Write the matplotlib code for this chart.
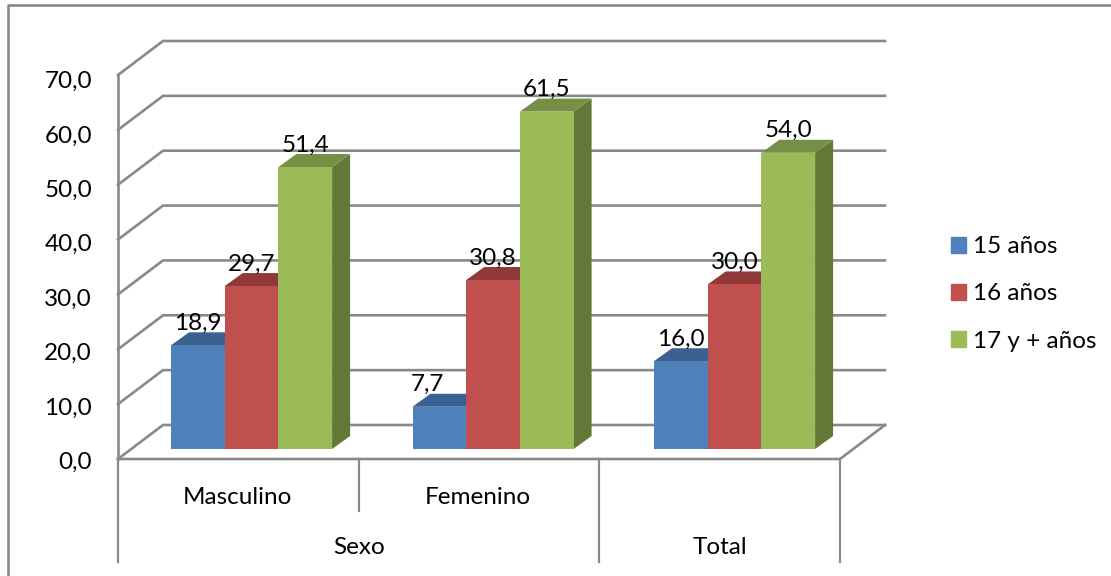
import matplotlib
matplotlib.use('Agg')
import matplotlib.pyplot as plt
from matplotlib.patches import Patch

# Data
groups = ['Masculino', 'Femenino', 'Total']
series = ['15 años', '16 años', '17 y + años']
v15 = [18.9, 7.7, 16.0]
v16 = [29.7, 30.8, 30.0]
v17 = [51.4, 61.5, 54.0]
ticks = [0, 10, 20, 30, 40, 50, 60, 70]

front = ['#4F81BD', '#C0504D', '#9BBB59']
top = ['#3A6190', '#8F3A38', '#768F45']
side = ['#2F4F75', '#742F2D', '#637736']
grey = '#898989'
fs = 17.5


def fmt(v):
    return f'{v:.1f}'.replace('.', ',')


plt.rcParams['font.family'] = ['Lato', 'DejaVu Sans']

fig = plt.figure(figsize=(11.11, 5.76), dpi=100)
ax = fig.add_axes([0, 0, 1, 1])
ax.axis('off')

# one axes over the whole figure: x in categories, y in chart values
px = 3 / 722     # x units per pixel
py = 70 / 384    # y units per pixel
ax.set_xlim(-118 * px, (1111 - 118) * px)
ax.set_ylim(-(576 - 459) * py, 459 * py)

back_x, back_y = 45 * px, 34 * py      # depth of the back wall
floor_y = 10 * py                      # bar front sits a bit into the floor
bar_dx, bar_dy = 18 * px, 13 * py      # depth of a bar
bar_w = 53.7 * px
bar_start = 53 * px
group_step = 241.5 * px

lw = 1.9
# chart frame, only left and top show
ax.plot([(8 - 118) * px, (8 - 118) * px, (1111 - 118) * px],
        [-(576 - 459) * py, (459 - 5) * py, (459 - 5) * py], color=grey, lw=lw)

# walls and gridlines
for t in ticks:
    ax.plot([0, back_x, 3 + back_x], [t, t + back_y, t + back_y], color=grey, lw=lw, zorder=1,
            solid_joinstyle='miter')
    ax.text(-26 * px, t * 0.992 - 3.5 * py, fmt(t), ha='right', va='center', fontsize=fs, color='black')
ax.plot([0, 0], [0, ticks[-1]], color=grey, lw=lw, zorder=1)
ax.plot([0, 3, 3 + back_x], [0, 0, back_y], color=grey, lw=lw, zorder=1)

# multi-level category axis
for x, low in [(0, 103), (1, 52), (2, 103), (3, 103)]:
    ax.plot([x, x], [0, -low * py], color=grey, lw=1.6, zorder=1)

for gi in range(len(groups)):
    vals = [v15[gi], v16[gi], v17[gi]]
    for si, v in enumerate(vals):
        x0 = gi * group_step + bar_start + si * bar_w
        x1 = x0 + bar_w
        y0 = floor_y
        y1 = floor_y + v
        ax.fill([x1, x1 + bar_dx, x1 + bar_dx, x1], [y0, y0 + bar_dy, y1 + bar_dy, y1],
                color=side[si], lw=0, zorder=2 + si)
        ax.fill([x0, x0 + bar_dx, x1 + bar_dx, x1], [y1, y1 + bar_dy, y1 + bar_dy, y1],
                color=top[si], lw=0, zorder=2 + si)
        ax.fill([x0, x1, x1, x0], [y0, y0, y1, y1], color=front[si], lw=0, zorder=2 + si)

# data labels
for gi in range(len(groups)):
    vals = [v15[gi], v16[gi], v17[gi]]
    for si, v in enumerate(vals):
        xc = gi * group_step + bar_start + (si + 0.5) * bar_w
        if v == 7.7:
            xc -= 12 * px
        ax.text(xc, floor_y + v + 22 * py, fmt(v), ha='center', va='center',
                fontsize=fs, color='black', zorder=10)

ax.text(0.5 - 1 * px, -38 * py, groups[0], ha='center', va='center', fontsize=fs)
ax.text(1.5 - 1 * px, -38 * py, groups[1], ha='center', va='center', fontsize=fs)
ax.text(1, -89 * py, 'Sexo', ha='center', va='center', fontsize=fs)
ax.text(2.5, -89 * py, groups[2], ha='center', va='center', fontsize=fs)

handles = [Patch(color=c, label=s) for c, s in zip(front, series)]
ax.legend(handles=handles, loc='center left', bbox_to_anchor=(944 / 1111, 1 - 294 / 576),
          frameon=False, fontsize=fs, handlelength=0.62, handleheight=0.62,
          handletextpad=0.29, labelspacing=1.07, borderpad=0.3, borderaxespad=0)

fig.savefig('out.png', dpi=100)
